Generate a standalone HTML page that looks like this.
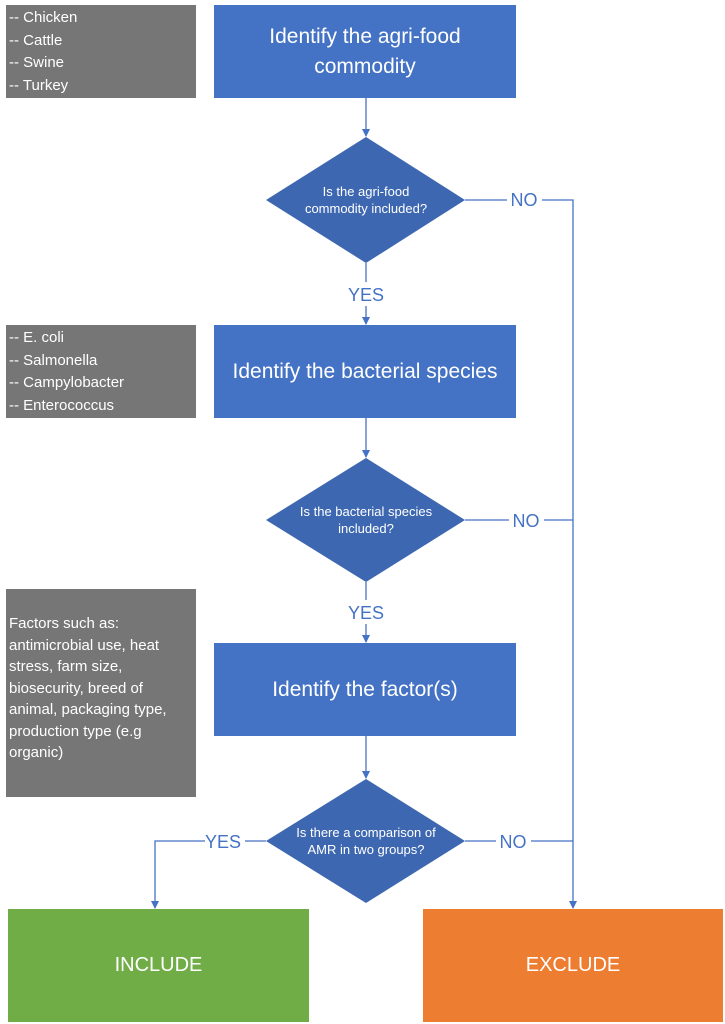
<!DOCTYPE html>
<html><head><meta charset="utf-8"><style>
html,body{margin:0;padding:0;background:#fff;}
body{width:725px;height:1024px;position:relative;overflow:hidden;font-family:"Liberation Sans",sans-serif;}
.b{position:absolute;display:flex;align-items:center;justify-content:center;text-align:center;color:#fff;}
.g{position:absolute;background:#767676;color:#fff;font-size:15px;line-height:22.5px;padding:2px 3px;box-sizing:border-box;}
</style></head><body>
<div class="g" style="left:6px;top:5px;width:190px;height:93px;">-- Chicken<br>-- Cattle<br>-- Swine<br>-- Turkey</div>
<div class="b" style="left:214px;top:5px;width:302px;height:93px;background:#4472c4;font-size:21px;line-height:30px;">Identify the agri-food<br>commodity</div>
<div class="g" style="left:6px;top:325px;width:190px;height:93px;">-- E. coli<br>-- Salmonella<br>-- Campylobacter<br>-- Enterococcus</div>
<div class="b" style="left:214px;top:325px;width:302px;height:93px;background:#4472c4;font-size:21px;">Identify the bacterial species</div>
<div class="g" style="left:6px;top:589px;width:190px;height:208px;padding-top:24px;line-height:21.5px;">Factors such as:<br>antimicrobial use, heat stress, farm size, biosecurity, breed of animal, packaging type, production type (e.g organic)</div>
<div class="b" style="left:214px;top:643px;width:302px;height:93px;background:#4472c4;font-size:21px;">Identify the factor(s)</div>
<div class="b" style="left:8px;top:909px;width:301px;height:113px;background:#70ad47;font-size:20px;">INCLUDE</div>
<div class="b" style="left:423px;top:909px;width:300px;height:113px;background:#ed7d31;font-size:20px;">EXCLUDE</div>
<svg width="725" height="1024" style="position:absolute;left:0;top:0" font-family="Liberation Sans, sans-serif">
<defs><marker id="a" markerWidth="8" markerHeight="8" refX="7" refY="4" orient="auto" markerUnits="userSpaceOnUse"><path d="M0,0 L8,4 L0,8 z" fill="#4472c4"/></marker></defs>
<g fill="#3d67b0">
<polygon points="366,137 465,200 366,263 266,200"/>
<polygon points="366,458 465,520 366,582 266,520"/>
<polygon points="366,779 465,841 366,903 266,841"/>
</g>
<g fill="#fff" font-size="13" text-anchor="middle">
<text x="366" y="196">Is the agri-food</text><text x="366" y="213">commodity included?</text>
<text x="366" y="516">Is the bacterial species</text><text x="366" y="533">included?</text>
<text x="366" y="837">Is there a comparison of</text><text x="366" y="854">AMR in two groups?</text>
</g>
<g stroke="#4472c4" stroke-width="1.3" fill="none">
<line x1="366" y1="98" x2="366" y2="136" marker-end="url(#a)"/>
<line x1="366" y1="263" x2="366" y2="282"/>
<line x1="366" y1="306" x2="366" y2="324" marker-end="url(#a)"/>
<line x1="366" y1="418" x2="366" y2="457" marker-end="url(#a)"/>
<line x1="366" y1="582" x2="366" y2="600"/>
<line x1="366" y1="624" x2="366" y2="642" marker-end="url(#a)"/>
<line x1="366" y1="736" x2="366" y2="778" marker-end="url(#a)"/>
<polyline points="465,200 507,200"/>
<polyline points="542,200 573,200 573,908" marker-end="url(#a)"/>
<polyline points="465,520 509,520"/>
<line x1="544" y1="520" x2="573" y2="520"/>
<polyline points="465,841 496,841"/>
<line x1="531" y1="841" x2="573" y2="841"/>
<polyline points="266,841 245,841"/>
<polyline points="205,841 155,841 155,908" marker-end="url(#a)"/>
</g>
<g fill="#4472c4" font-size="18" text-anchor="middle">
<text x="524" y="206">NO</text>
<text x="526" y="527">NO</text>
<text x="513" y="848">NO</text>
<text x="366" y="301">YES</text>
<text x="366" y="619">YES</text>
<text x="223" y="848">YES</text>
</g>
</svg>
</body></html>
